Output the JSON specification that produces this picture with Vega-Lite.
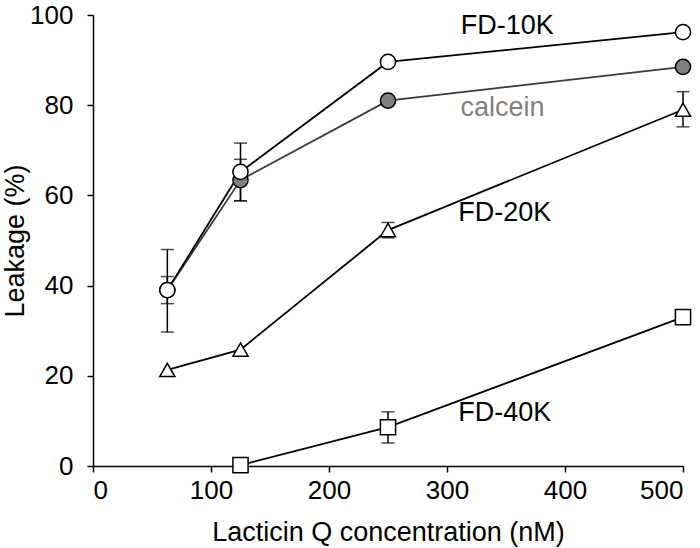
{
  "$schema": "https://vega.github.io/schema/vega-lite/v6.json",
  "width": 590,
  "height": 451,
  "autosize": {"type": "none"},
  "padding": {"left": 93, "top": 15, "right": 17, "bottom": 82},
  "background": "white",
  "config": {
    "view": {"stroke": null},
    "font": "Liberation Sans",
    "axis": {
      "grid": false,
      "domainColor": "black",
      "domainWidth": 1.5,
      "tickColor": "black",
      "tickWidth": 1.5,
      "tickSize": 6,
      "labelFont": "Liberation Sans",
      "labelFontSize": 26,
      "labelColor": "black",
      "titleFont": "Liberation Sans",
      "titleFontSize": 27,
      "titleFontWeight": "normal",
      "titleColor": "black"
    }
  },
  "resolve": {"scale": {"color": "independent"}},
  "datasets": {
    "pts": [
      {"series": "calcein", "conc": 63, "leak": 39, "lo": 36, "hi": 42},
      {"series": "calcein", "conc": 125, "leak": 63.4, "lo": 58.8, "hi": 68},
      {"series": "calcein", "conc": 250, "leak": 81},
      {"series": "calcein", "conc": 500, "leak": 88.5},
      {"series": "FD-10K", "conc": 63, "leak": 39, "lo": 29.7, "hi": 48},
      {"series": "FD-10K", "conc": 125, "leak": 65.2, "lo": 58.8, "hi": 71.6},
      {"series": "FD-10K", "conc": 250, "leak": 89.6},
      {"series": "FD-10K", "conc": 500, "leak": 96.2},
      {"series": "FD-20K", "conc": 63, "leak": 21.3},
      {"series": "FD-20K", "conc": 125, "leak": 25.8},
      {"series": "FD-20K", "conc": 250, "leak": 52.3, "lo": 50.6, "hi": 54},
      {"series": "FD-20K", "conc": 500, "leak": 79, "lo": 75.2, "hi": 83},
      {"series": "FD-40K", "conc": 125, "leak": 0.2},
      {"series": "FD-40K", "conc": 250, "leak": 8.6, "lo": 5.1, "hi": 12},
      {"series": "FD-40K", "conc": 500, "leak": 33}
    ],
    "labels": [
      {"label": "FD-10K", "conc": 351, "leak": 97.6},
      {"label": "calcein", "conc": 347, "leak": 79.4},
      {"label": "FD-20K", "conc": 349, "leak": 56},
      {"label": "FD-40K", "conc": 349, "leak": 11.7}
    ]
  },
  "encoding": {
    "x": {
      "field": "conc", "type": "quantitative",
      "scale": {"domain": [0, 500], "nice": false},
      "axis": {"values": [0, 100, 200, 300, 400, 500], "title": "Lacticin Q concentration (nM)", "labelPadding": 5, "titlePadding": 16}
    },
    "y": {
      "field": "leak", "type": "quantitative",
      "scale": {"domain": [0, 100], "nice": false},
      "axis": {"values": [0, 20, 40, 60, 80, 100], "title": "Leakage (%)", "labelPadding": 14, "titlePadding": 0}
    }
  },
  "layer": [
    {
      "data": {"name": "pts"},
      "transform": [{"filter": "isValid(datum.lo)"}],
      "mark": {"type": "rule", "color": "black", "strokeWidth": 1.5},
      "encoding": {"y": {"field": "lo", "type": "quantitative"}, "y2": {"field": "hi"}}
    },
    {
      "data": {"name": "pts"},
      "transform": [{"filter": "isValid(datum.lo)"}],
      "mark": {"type": "tick", "orient": "horizontal", "color": "black", "size": 13, "thickness": 1.5},
      "encoding": {"y": {"field": "lo", "type": "quantitative"}}
    },
    {
      "data": {"name": "pts"},
      "transform": [{"filter": "isValid(datum.hi)"}],
      "mark": {"type": "tick", "orient": "horizontal", "color": "black", "size": 13, "thickness": 1.5},
      "encoding": {"y": {"field": "hi", "type": "quantitative"}}
    },
    {
      "data": {"name": "pts"},
      "mark": {"type": "line", "strokeWidth": 1.8},
      "encoding": {
        "detail": {"field": "series"},
        "color": {"field": "series", "type": "nominal", "legend": null,
          "scale": {"domain": ["calcein", "FD-10K", "FD-20K", "FD-40K"], "range": ["#3a3a3a", "black", "black", "black"]}}
      }
    },
    {
      "data": {"name": "pts"},
      "mark": {"type": "point", "filled": false, "stroke": "black", "strokeWidth": 1.5, "opacity": 1},
      "encoding": {
        "shape": {"field": "series", "type": "nominal", "legend": null,
          "scale": {"domain": ["calcein", "FD-10K", "FD-20K", "FD-40K"], "range": ["circle", "circle", "triangle-up", "square"]}},
        "fill": {"field": "series", "type": "nominal", "legend": null,
          "scale": {"domain": ["calcein", "FD-10K", "FD-20K", "FD-40K"], "range": ["#808080", "white", "white", "white"]}},
        "size": {"field": "series", "type": "nominal", "legend": null,
          "scale": {"domain": ["calcein", "FD-10K", "FD-20K", "FD-40K"], "range": [230, 230, 380, 320]}}
      }
    },
    {
      "data": {"name": "labels"},
      "mark": {"type": "text", "fontSize": 27, "font": "Liberation Sans", "align": "center", "baseline": "middle"},
      "encoding": {
        "text": {"field": "label"},
        "color": {"field": "label", "type": "nominal", "legend": null,
          "scale": {"domain": ["FD-10K", "calcein", "FD-20K", "FD-40K"], "range": ["black", "#808080", "black", "black"]}}
      }
    }
  ]
}
